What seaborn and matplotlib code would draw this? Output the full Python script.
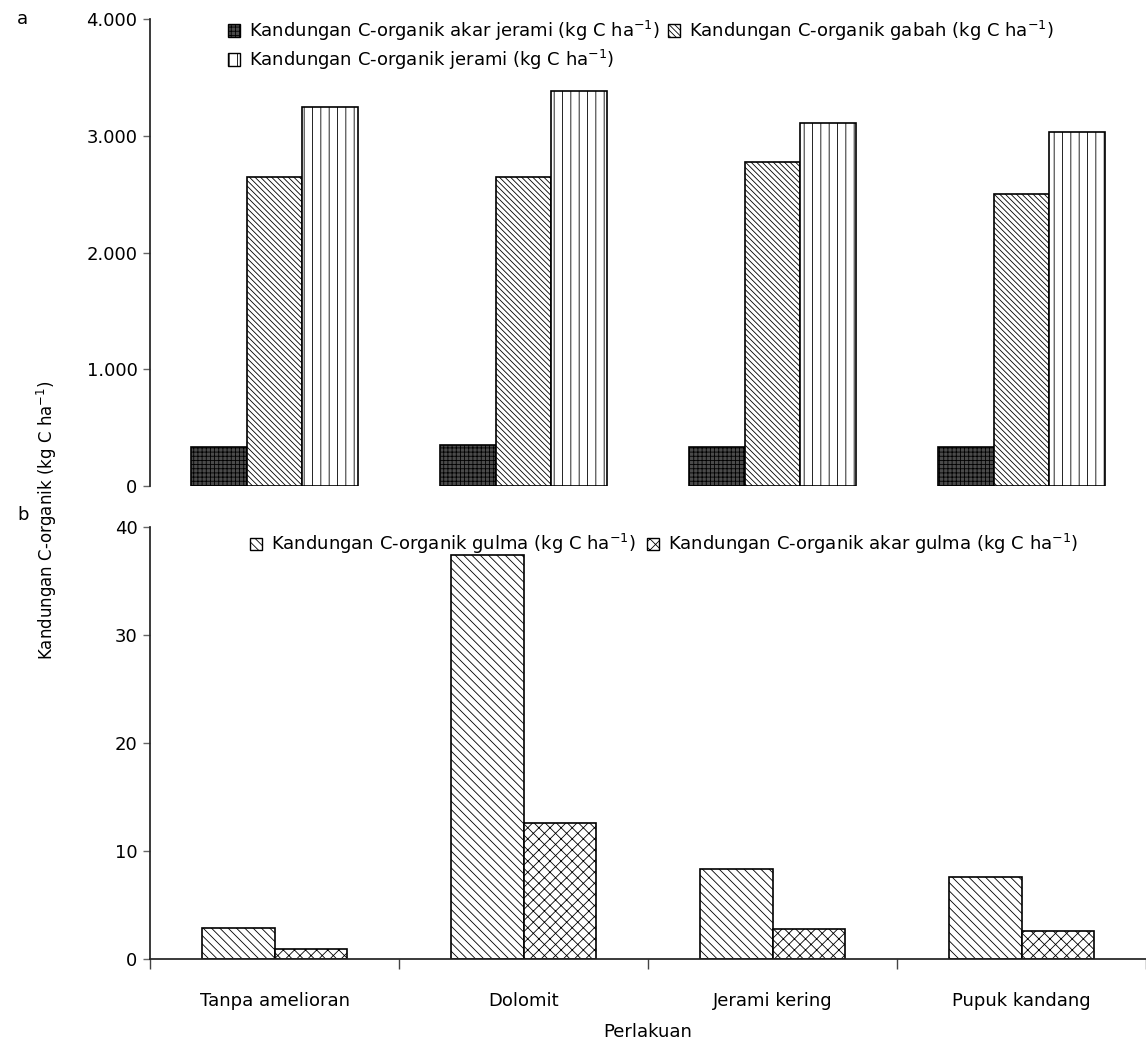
import matplotlib
matplotlib.use("Agg")
import matplotlib.pyplot as plt
import matplotlib.patches as mpatches
from matplotlib.ticker import FuncFormatter
import seaborn as sns
import pandas as pd

########## Data ##########
perlakuan = ["Tanpa amelioran", "Dolomit", "Jerami kering", "Pupuk kandang"]

# panel a (kg C / ha)
akar_jerami = [331, 348, 331, 331]
gabah = [2650, 2650, 2778, 2501]
jerami = [3250, 3381, 3112, 3030]

# panel b (kg C / ha)
gulma = [2.88, 37.4, 8.36, 7.59]
akar_gulma = [0.93, 12.6, 2.76, 2.63]

lbl_akar = r"Kandungan C-organik akar jerami (kg C ha$^{-1}$)"
lbl_gabah = r"Kandungan C-organik gabah (kg C ha$^{-1}$)"
lbl_jerami = r"Kandungan C-organik jerami (kg C ha$^{-1}$)"
lbl_gulma = r"Kandungan C-organik gulma (kg C ha$^{-1}$)"
lbl_akar_gulma = r"Kandungan C-organik akar gulma (kg C ha$^{-1}$)"

########## Settings ##########
sns.set_theme(style="white")
plt.rcParams["font.family"] = ["DejaVu Sans"]
plt.rcParams["mathtext.fontset"] = "dejavusans"
plt.rcParams["hatch.linewidth"] = 0.6
plt.rcParams["hatch.color"] = "black"
plt.rcParams["text.color"] = "black"
plt.rcParams["xtick.labelcolor"] = "black"
plt.rcParams["ytick.labelcolor"] = "black"

W, H = 1146, 1041
FS = 13

# hatch / face colour for every series
style_a = {lbl_akar: ("#4a4a4a", "++++"), lbl_gabah: ("white", "\\" * 6), lbl_jerami: ("white", "||")}
style_b = {lbl_gulma: ("white", "\\" * 4), lbl_akar_gulma: ("white", "xxx")}

########## Long data ##########
df_a = pd.DataFrame({
    "Perlakuan": perlakuan * 3,
    "nilai": akar_jerami + gabah + jerami,
    "komponen": [lbl_akar] * 4 + [lbl_gabah] * 4 + [lbl_jerami] * 4,
})
df_b = pd.DataFrame({
    "Perlakuan": perlakuan * 2,
    "nilai": gulma + akar_gulma,
    "komponen": [lbl_gulma] * 4 + [lbl_akar_gulma] * 4,
})

fig = plt.figure(figsize=(W / 100, H / 100), dpi=100)
ax_a = fig.add_axes([150 / W, 1 - 486 / H, 996 / W, (486 - 19) / H])
ax_b = fig.add_axes([150 / W, 1 - 959 / H, 996 / W, (959 - 527) / H])


def draw(ax, df, styles, width):
    order = list(styles.keys())
    sns.barplot(data=df, x="Perlakuan", y="nilai", hue="komponen", hue_order=order,
                order=perlakuan, palette=["white"] * len(order), width=width, gap=0,
                errorbar=None, legend=False, edgecolor="black", linewidth=1.2, ax=ax)
    for cont, key in zip(ax.containers, order):
        fc, h = styles[key]
        for bar in cont:
            bar.set_facecolor(fc)
            bar.set_hatch(h)
    ax.set_xlim(-0.5, 3.5)
    ax.set_xlabel("")
    ax.set_ylabel("")
    for s in ["top", "right"]:
        ax.spines[s].set_visible(False)
    ax.spines["left"].set_color("#222222")
    ax.tick_params(axis="y", left=True, length=5, width=1, color="#666666",
                   labelsize=FS, labelcolor="black", pad=4, direction="out")


def make_handles(styles):
    return [mpatches.Patch(facecolor=fc, hatch=h, edgecolor="black", linewidth=1.0, label=k)
            for k, (fc, h) in styles.items()]


########## Panel a ##########
draw(ax_a, df_a, style_a, 0.67)
ax_a.set_ylim(0, 4000)
ax_a.set_yticks([0, 1000, 2000, 3000, 4000])
ax_a.yaxis.set_major_formatter(FuncFormatter(lambda v, p: f"{int(v):,}".replace(",", ".")))
ax_a.spines["bottom"].set_visible(False)
ax_a.set_xticks([])

h_a = make_handles(style_a)
# column-first fill: akar, jerami | gabah
ax_a.legend(handles=[h_a[0], h_a[2], h_a[1]], loc="upper left", bbox_to_anchor=(0.078, 1.0),
            ncol=2, frameon=False, fontsize=FS, borderpad=0, borderaxespad=0,
            handlelength=0.7, handleheight=0.7, handletextpad=0.5,
            columnspacing=0.4, labelspacing=0.25)

########## Panel b ##########
draw(ax_b, df_b, style_b, 0.58)
ax_b.set_ylim(0, 40)
ax_b.set_yticks([0, 10, 20, 30, 40])
ax_b.spines["bottom"].set_color("#222222")
ax_b.set_xticks(range(4))
ax_b.set_xticklabels(perlakuan, fontsize=FS, color="black")
ax_b.tick_params(axis="x", which="major", bottom=True, length=0, pad=24)
ax_b.set_xticks([-0.5, 0.5, 1.5, 2.5, 3.5], minor=True)
ax_b.tick_params(axis="x", which="minor", bottom=True, length=7, width=1, color="#444444", direction="out")

h_b = make_handles(style_b)
ax_b.legend(handles=h_b, loc="upper left", bbox_to_anchor=(0.1, 0.988), ncol=2,
            frameon=False, fontsize=FS, borderpad=0, borderaxespad=0,
            handlelength=0.7, handleheight=0.7, handletextpad=0.5, columnspacing=0.6)

########## Texts ##########
fig.text(17 / W, 1 - 19 / H, "a", fontsize=FS, ha="left", va="center")
fig.text(17 / W, 1 - 515 / H, "b", fontsize=FS, ha="left", va="center")
fig.text(47 / W, 1 - 520 / H, r"Kandungan C-organik (kg C ha$^{-1}$)", fontsize=12,
         rotation=90, ha="center", va="center")
fig.text(648 / W, 1 - 1032 / H, "Perlakuan", fontsize=FS, ha="center", va="center")

fig.savefig("out.png", dpi=100)
